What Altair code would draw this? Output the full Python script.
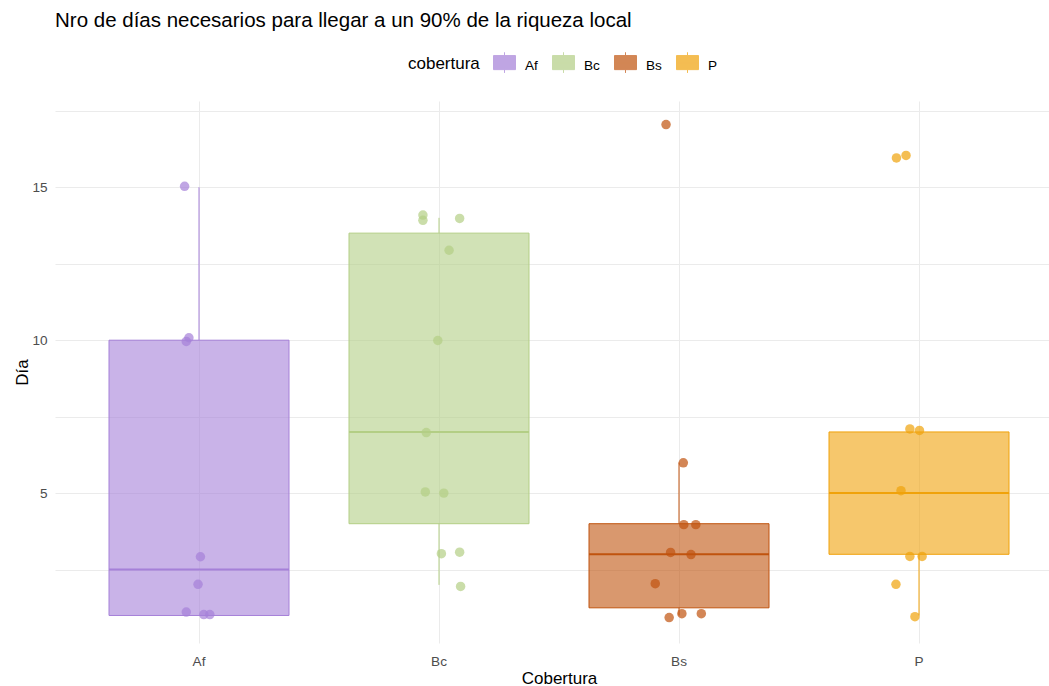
import altair as alt
import numpy as np
import pandas as pd

FUENTE = "Liberation Sans"

# Coberturas y su color
coberturas = ["Af", "Bc", "Bs", "P"]
colores = ["#a580d8", "#b3ce85", "#c0530e", "#f0a20a"]

# Días necesarios para llegar al 90% de la riqueza local, por cobertura
dias_af = [15, 10, 10, 3, 2, 1, 1, 1]
dias_bc = [14, 14, 14, 13, 10, 7, 5, 5, 3, 3, 2]
dias_bs = [17, 6, 4, 4, 3, 3, 2, 1, 1, 1]
dias_p = [16, 16, 7, 7, 5, 3, 3, 2, 1]

# Altura dibujada de cada punto (con jitter vertical)
jit_y_af = [15.03, 10.08, 9.96, 2.92, 2.02, 1.11, 1.03, 1.03]
jit_y_bc = [14.09, 13.92, 13.98, 12.94, 9.99, 6.98, 5.04, 5.00, 3.02, 3.07, 1.95]
jit_y_bs = [17.05, 5.99, 3.97, 3.97, 3.06, 2.99, 2.04, 0.93, 1.06, 1.06]
jit_y_p = [15.96, 16.04, 7.10, 7.05, 5.08, 2.93, 2.93, 2.02, 0.96]

# Desplazamiento horizontal del jitter (fracción del ancho de cada categoría)
jit_x_af = [-0.060, -0.042, -0.053, 0.006, -0.004, -0.053, 0.020, 0.045]
jit_x_bc = [-0.067, -0.067, 0.086, 0.042, -0.005, -0.053, -0.057, 0.020, 0.010, 0.086, 0.090]
jit_x_bs = [-0.054, 0.018, 0.020, 0.070, -0.035, 0.050, -0.099, -0.041, 0.012, 0.093]
jit_x_p = [-0.094, -0.054, -0.038, 0.002, -0.075, -0.038, 0.013, -0.096, -0.017]

series = [dias_af, dias_bc, dias_bs, dias_p]
series_jy = [jit_y_af, jit_y_bc, jit_y_bs, jit_y_p]
series_jx = [jit_x_af, jit_x_bc, jit_x_bs, jit_x_p]

# Tabla de puntos
filas = []
for cob, dias, jy, jx in zip(coberturas, series, series_jy, series_jx):
    for d, y, x in zip(dias, jy, jx):
        filas.append({"cobertura": cob, "dia": d, "dia_jit": y, "jit_x": x})
puntos_df = pd.DataFrame(filas)

# Estadísticos del boxplot (cuartiles tipo 7, bigotes a 1.5 IQR)
resumen, bigotes = [], []
for cob, dias in zip(coberturas, series):
    arr = np.array(dias, dtype=float)
    q1, med, q3 = np.percentile(arr, [25, 50, 75])
    iqr = q3 - q1
    lo = arr[arr >= q1 - 1.5 * iqr].min()
    hi = arr[arr <= q3 + 1.5 * iqr].max()
    resumen.append({"cobertura": cob, "q1": q1, "mediana": med, "q3": q3})
    bigotes.append({"cobertura": cob, "y0": lo, "y1": q1})
    bigotes.append({"cobertura": cob, "y0": q3, "y1": hi})
cajas_df = pd.DataFrame(resumen)
bigotes_df = pd.DataFrame(bigotes)

# Símbolo de la leyenda: caja con mediana, bigotes y punto (algo elevado
# respecto del centro de la entrada, para que la etiqueta quede más baja)
SIMBOLO = ("M-1,-0.91H1V0.37H-1Z M0,-1.21V-0.91 M0,0.37V0.67 M-1,-0.27H1 "
           "M0.39,-0.27A0.39,0.39,0,1,1,-0.39,-0.27A0.39,0.39,0,1,1,0.39,-0.27Z")

# Bandas de 240 px; la última se prolonga más allá del borde derecho del panel
escala_x = alt.Scale(domain=coberturas, range=[0, 1008], paddingInner=0, paddingOuter=0.1)
escala_y = alt.Scale(domain=[0.1, 17.82], nice=False, zero=False)
escala_col = alt.Scale(domain=coberturas, range=colores)
ANCHO_CAJA = 180  # 3/4 de la banda

eje_x = alt.Axis(domain=False, ticks=False, tickSize=0, grid=True,
                 labelPadding=11, labelFontSize=13.6, labelColor="#4d4d4d",
                 titleFontSize=17, titleColor="black", titleFontWeight="normal",
                 titleX=504, titleY=40, titleBaseline="alphabetic", labelAngle=0)
eje_y = alt.Axis(domain=False, ticks=False, tickSize=0, grid=True,
                 values=[2.5, 5, 7.5, 10, 12.5, 15, 17.5],
                 labelExpr="datum.value % 5 == 0 ? datum.label : ''",
                 labelPadding=8, labelFontSize=13.6, labelColor="#4d4d4d",
                 titleFontSize=17, titleColor="black", titleFontWeight="normal",
                 titleX=-28, titleY=271, titleAngle=270, titleAlign="center",
                 titleBaseline="alphabetic")

leyenda = alt.Legend(title="cobertura", orient="none", legendX=353, legendY=-47,
                     direction="horizontal", titleOrient="left", titleAnchor="middle",
                     titleBaseline="middle", titleFontSize=17, titleFontWeight="normal",
                     titleColor="black", titlePadding=13, labelFontSize=13.6,
                     labelColor="black", labelOffset=9, columnPadding=12,
                     symbolType=SIMBOLO, symbolSize=484, symbolStrokeWidth=1, padding=0)

X = alt.X("cobertura:N", scale=escala_x, sort=coberturas, axis=eje_x, title="Cobertura")
relleno = alt.Fill("cobertura:N", scale=escala_col, legend=leyenda, title="cobertura")
trazo = alt.Stroke("cobertura:N", scale=escala_col, legend=leyenda, title="cobertura")

cajas = alt.Chart(cajas_df).mark_bar(
    size=ANCHO_CAJA, fillOpacity=0.6, strokeWidth=1
).encode(
    x=X,
    y=alt.Y("q1:Q", scale=escala_y, axis=eje_y, title="Día"),
    y2="q3:Q",
    fill=relleno,
    stroke=trazo,
)

lineas_bigote = alt.Chart(bigotes_df).mark_rule(strokeWidth=1).encode(
    x=X,
    y=alt.Y("y0:Q", scale=escala_y, title="Día"),
    y2="y1:Q",
    stroke=trazo,
)

medianas = alt.Chart(cajas_df).mark_bar(
    size=ANCHO_CAJA, fillOpacity=0, strokeWidth=2
).encode(
    x=X,
    y=alt.Y("mediana:Q", scale=escala_y, title="Día"),
    y2="mediana:Q",
    stroke=trazo,
)

puntos = alt.Chart(puntos_df).mark_circle(size=90, opacity=0.7).encode(
    x=X,
    xOffset=alt.XOffset("jit_x:Q", scale=alt.Scale(domain=[-0.5, 0.5])),
    y=alt.Y("dia_jit:Q", scale=escala_y, title="Día"),
    fill=relleno,
)

chart = alt.layer(cajas, lineas_bigote, medianas, puntos).properties(
    width=994,
    height=542,
    background="white",
    autosize=alt.AutoSizeParams(type="none"),
    padding={"left": 55, "top": 101, "right": 0, "bottom": 43},
    title=alt.TitleParams(
        text="Nro de días necesarios para llegar a un 90% de la riqueza local",
        anchor="start", frame="group", fontSize=20.5, fontWeight="normal",
        color="black", font=FUENTE, offset=22, dy=15, baseline="alphabetic",
    ),
).configure_view(
    strokeWidth=0, stroke="transparent"
).configure_axis(
    labelFont=FUENTE, titleFont=FUENTE, gridColor="#ebebeb", gridWidth=1,
    domain=False, ticks=False,
).configure_legend(
    labelFont=FUENTE, titleFont=FUENTE,
)

chart.save("out.html", embed_options={"renderer": "svg", "actions": False})
